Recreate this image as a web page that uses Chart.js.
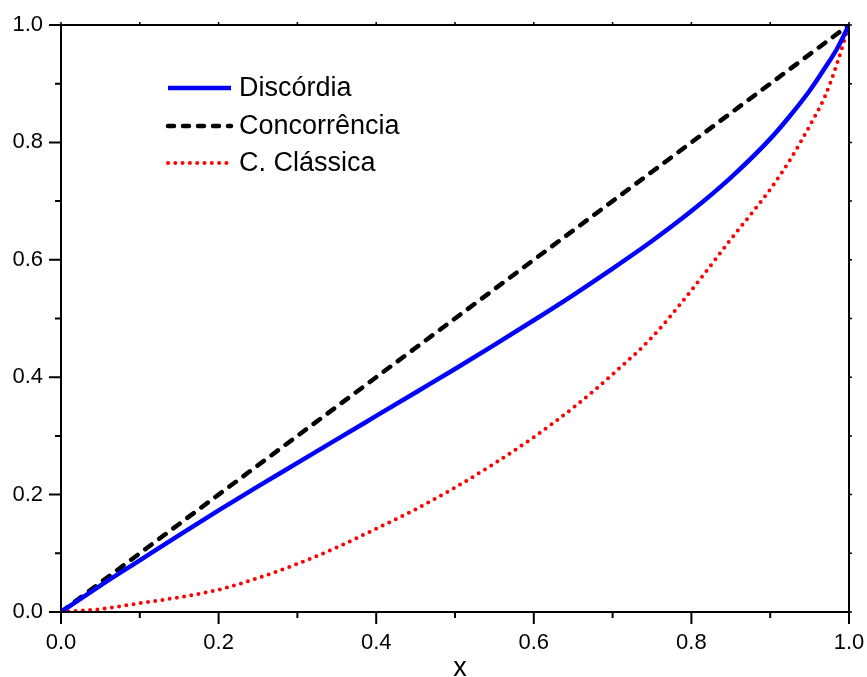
<!DOCTYPE html>
<html>
<head>
<meta charset="utf-8">
<script src="https://cdn.jsdelivr.net/npm/chart.js@4.4.1/dist/chart.umd.min.js"></script>
<style>
  html, body { margin: 0; padding: 0; background: #ffffff; }
  #wrap { width: 867px; height: 677px; position: relative; }
</style>
</head>
<body>
<div id="wrap"><canvas id="c" width="867" height="677"></canvas></div>
<script>
// ---- Data ----
const xValues        = [0, 0.05, 0.1, 0.15, 0.2, 0.25, 0.3, 0.35, 0.4, 0.45, 0.5, 0.55, 0.6, 0.65, 0.7, 0.75, 0.8, 0.85, 0.9, 0.925, 0.95, 0.97, 0.985, 1.0];
const discordia      = [0, 0.045, 0.088, 0.131, 0.173, 0.214, 0.254, 0.294, 0.334, 0.374, 0.414, 0.455, 0.497, 0.540, 0.585, 0.632, 0.683, 0.740, 0.806, 0.845, 0.888, 0.928, 0.960, 1.0];
const concorrencia   = [0, 0.05, 0.1, 0.15, 0.2, 0.25, 0.3, 0.35, 0.4, 0.45, 0.5, 0.55, 0.6, 0.65, 0.7, 0.75, 0.8, 0.85, 0.9, 0.925, 0.95, 0.97, 0.985, 1.0];
const classica       = [0, 0.005, 0.015, 0.025, 0.038, 0.058, 0.082, 0.110, 0.142, 0.175, 0.212, 0.253, 0.298, 0.348, 0.405, 0.468, 0.548, 0.635, 0.720, 0.770, 0.828, 0.880, 0.935, 1.0];
const seriesLabels   = ['Discórdia', 'Concorrência', 'C. Clássica'];
const xTickValues    = [0, 0.2, 0.4, 0.6, 0.8, 1.0];
const yTickValues    = [0, 0.2, 0.4, 0.6, 0.8, 1.0];
const minorTickValues = [0.1, 0.3, 0.5, 0.7, 0.9];
const xAxisTitle     = 'x';

const FONT = "'Liberation Sans', Arial, sans-serif";

function toPoints(xs, ys) { return xs.map((x, i) => ({ x: x, y: ys[i] })); }

// Frame, ticks, axis title and inset legend
const decorations = {
  id: 'decorations',
  afterDraw(chart) {
    const ctx = chart.ctx;
    const a = chart.chartArea;
    const xs = chart.scales.x, ys = chart.scales.y;
    ctx.save();
    ctx.strokeStyle = '#000';
    ctx.lineWidth = 2;
    ctx.setLineDash([]);
    ctx.strokeRect(a.left, a.top, a.right - a.left, a.bottom - a.top);

    ctx.lineWidth = 2;
    ctx.beginPath();
    xTickValues.forEach(v => { const p = xs.getPixelForValue(v); ctx.moveTo(p, a.bottom); ctx.lineTo(p, a.bottom + 12); });
    minorTickValues.forEach(v => { const p = xs.getPixelForValue(v); ctx.moveTo(p, a.bottom); ctx.lineTo(p, a.bottom + 6); });
    yTickValues.forEach(v => { const p = ys.getPixelForValue(v); ctx.moveTo(a.left, p); ctx.lineTo(a.left - 12, p); });
    minorTickValues.forEach(v => { const p = ys.getPixelForValue(v); ctx.moveTo(a.left, p); ctx.lineTo(a.left - 6, p); });
    ctx.stroke();

    ctx.lineWidth = 1.5;
    ctx.beginPath();
    xTickValues.concat(minorTickValues).forEach(v => { const p = xs.getPixelForValue(v); ctx.moveTo(p, a.top); ctx.lineTo(p, a.top - 3); });
    yTickValues.concat(minorTickValues).forEach(v => { const p = ys.getPixelForValue(v); ctx.moveTo(a.right, p); ctx.lineTo(a.right + 3, p); });
    ctx.stroke();

    // axis title
    ctx.fillStyle = '#000';
    ctx.font = '27px ' + FONT;
    ctx.textAlign = 'center';
    ctx.textBaseline = 'alphabetic';
    ctx.fillText(xAxisTitle, (a.left + a.right) / 2 + 5, 676);

    // legend
    const rowsY = [88, 126, 163];
    chart.data.datasets.forEach((ds, i) => {
      const y = rowsY[i];
      ctx.save();
      ctx.strokeStyle = ds.borderColor;
      ctx.lineWidth = ds.borderWidth;
      ctx.lineCap = ds.borderCapStyle || 'butt';
      ctx.setLineDash(ds.legendDash || []);
      ctx.beginPath();
      ctx.moveTo(168, y);
      ctx.lineTo(231, y);
      ctx.stroke();
      ctx.restore();
      ctx.fillStyle = '#000';
      ctx.font = '27px ' + FONT;
      ctx.textAlign = 'left';
      ctx.textBaseline = 'middle';
      ctx.fillText(ds.label, 239, y + 1);
    });
    ctx.restore();
  }
};

new Chart(document.getElementById('c'), {
  type: 'line',
  data: {
    datasets: [
      {
        label: seriesLabels[0],
        data: toPoints(xValues, discordia),
        borderColor: '#0000ff',
        borderWidth: 4.5,
        pointRadius: 0,
        cubicInterpolationMode: 'monotone',
        legendDash: []
      },
      {
        label: seriesLabels[1],
        data: toPoints(xValues, concorrencia),
        borderColor: '#000000',
        borderWidth: 4.5,
        borderDash: [8, 9.5],
        borderCapStyle: 'round',
        pointRadius: 0,
        tension: 0,
        legendDash: [6, 9]
      },
      {
        label: seriesLabels[2],
        data: toPoints(xValues, classica),
        borderColor: '#ff0000',
        borderWidth: 4,
        borderDash: [0, 7.3],
        borderCapStyle: 'round',
        pointRadius: 0,
        cubicInterpolationMode: 'monotone',
        legendDash: [0, 7.3]
      }
    ]
  },
  options: {
    responsive: false,
    animation: false,
    devicePixelRatio: 1,
    layout: { padding: { top: 25, right: 18, left: 0, bottom: 0 } },
    plugins: { legend: { display: false }, tooltip: { enabled: false } },
    scales: {
      x: {
        type: 'linear',
        min: 0, max: 1,
        afterBuildTicks: s => { s.ticks = xTickValues.map(v => ({ value: v })); },
        ticks: {
          font: { family: FONT, size: 22 },
          color: '#000',
          padding: 18,
          maxRotation: 0,
          callback: v => v.toFixed(1)
        },
        grid: { display: false, drawTicks: false },
        border: { display: false },
        afterFit: s => { s.height = 65; s.paddingLeft = 0; s.paddingRight = 0; }
      },
      y: {
        type: 'linear',
        min: 0, max: 1,
        afterBuildTicks: s => { s.ticks = yTickValues.map(v => ({ value: v })); },
        ticks: {
          font: { family: FONT, size: 22 },
          color: '#000',
          padding: 18,
          callback: v => v.toFixed(1)
        },
        grid: { display: false, drawTicks: false },
        border: { display: false },
        afterFit: s => { s.width = 61; s.paddingTop = 0; s.paddingBottom = 0; }
      }
    }
  },
  plugins: [decorations]
});
</script>
</body>
</html>
